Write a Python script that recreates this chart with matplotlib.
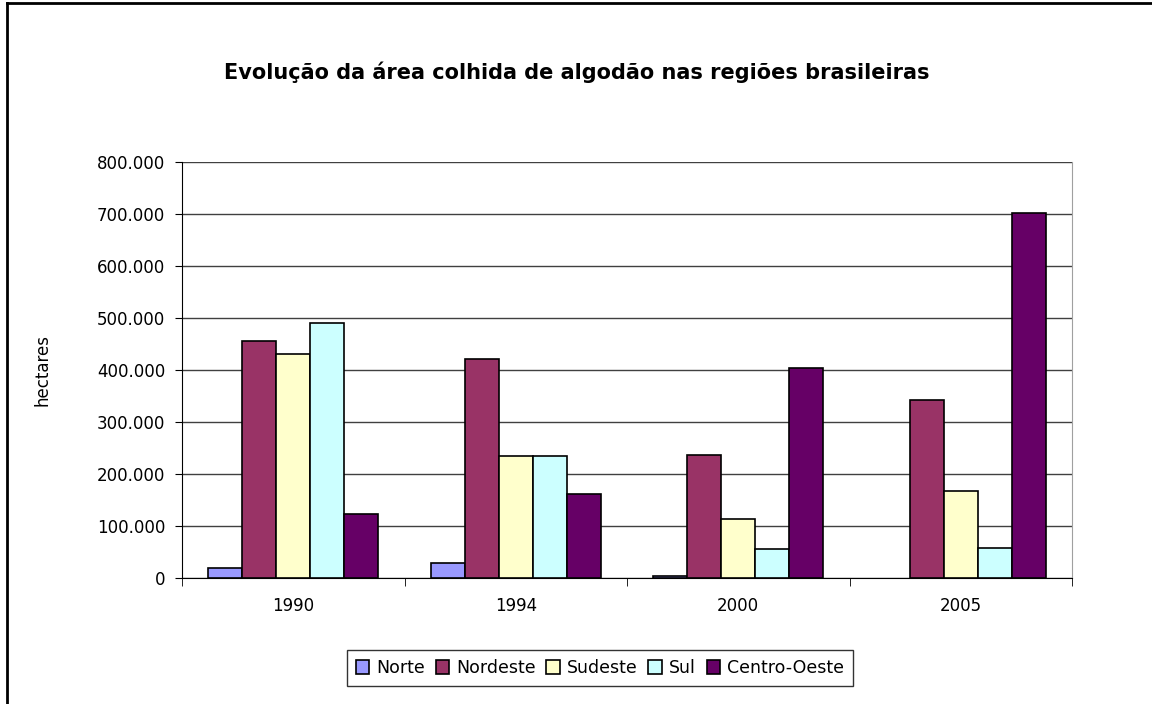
import numpy as np
import matplotlib.pyplot as plt
from matplotlib.lines import Line2D
from matplotlib.ticker import FuncFormatter, MultipleLocator, FixedLocator

years = ['1990', '1994', '2000', '2005']
regions = ['Norte', 'Nordeste', 'Sudeste', 'Sul', 'Centro-Oeste']
norte = [19000, 29000, 3000, 0]
nordeste = [456000, 421000, 237000, 342000]
sudeste = [431000, 235000, 113000, 167000]
sul = [490000, 235000, 56000, 58000]
centro_oeste = [123000, 161000, 404000, 702000]
colors = ['#9999ff', '#993366', '#ffffcc', '#ccffff', '#660066']

series = [norte, nordeste, sudeste, sul, centro_oeste]

fig = plt.figure(figsize=(11.52, 7.04), dpi=100)
ax = fig.add_axes([182/1152, 1-578/704, 890/1152, 416/704])

x = np.arange(len(years))
w = 0.153
for i, (vals, name, c) in enumerate(zip(series, regions, colors)):
    lw = [1.2 if v > 0 else 0 for v in vals]
    ax.bar(x + (i - 2) * w, vals, w, color=c, edgecolor='black', linewidth=lw, label=name, zorder=3)

ax.set_xlim(-0.5, 3.5)
ax.set_ylim(0, 800000)
ax.yaxis.set_major_locator(MultipleLocator(100000))
ax.yaxis.set_major_formatter(FuncFormatter(lambda v, p: f'{int(v):,}'.replace(',', '.')))
ax.grid(axis='y', color='#404040', linewidth=1, zorder=0)
ax.set_xticks(x)
ax.set_xticklabels(years)
ax.xaxis.set_minor_locator(FixedLocator([-0.5, 0.5, 1.5, 2.5, 3.5]))
ax.tick_params(axis='x', which='major', length=0, pad=14, labelsize=12)
ax.tick_params(axis='x', which='minor', length=6, direction='out', color='black')
ax.tick_params(axis='y', length=5, direction='out', labelsize=12, pad=7)

ax.spines['top'].set_visible(False)
ax.spines['right'].set_color('#a0a0a0')
ax.spines['left'].set_color('black')
ax.spines['bottom'].set_color('black')

ax.set_ylabel('hectares', fontsize=12, labelpad=33)

fig.text(577/1152, 1-72/704, 'Evolução da área colhida de algodão nas regiões brasileiras',
         ha='center', va='center', fontsize=15, fontweight='bold')

leg = fig.legend(loc='center', bbox_to_anchor=(600/1152, 1-668/704), ncol=5, frameon=True,
                 fancybox=False, edgecolor='black', fontsize=12.5, handlelength=0.8,
                 handleheight=0.8, handletextpad=0.4, columnspacing=0.6, borderpad=0.5)
leg.get_frame().set_linewidth(1)

# frame of the chart area (cropped at bottom and right)
fig.add_artist(Line2D([7/1152, 7/1152], [0, 1 - 3/704], transform=fig.transFigure, color='black', linewidth=2))
fig.add_artist(Line2D([7/1152, 1], [1 - 3/704, 1 - 3/704], transform=fig.transFigure, color='black', linewidth=2))

fig.savefig('out.png', dpi=100)
